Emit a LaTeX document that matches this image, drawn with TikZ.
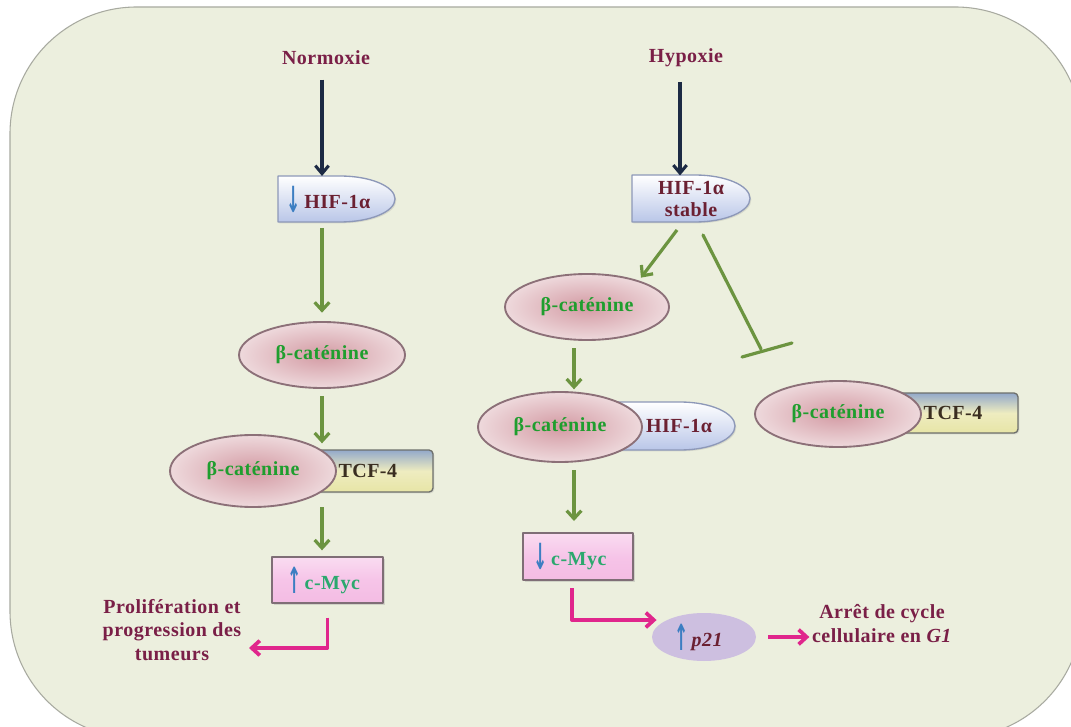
\documentclass[tikz,border=0pt]{standalone}
\usepackage{fontspec}
\setmainfont{Liberation Serif}[LetterSpace=2.5]
\newfontfamily\dejavu{DejaVu Sans}
\usetikzlibrary{arrows.meta,shapes.geometric,shadows,calc}
\definecolor{bgc}{HTML}{ECEFDE}
\definecolor{bgbd}{HTML}{A8AAA0}
\definecolor{maroon}{HTML}{7A1F47}
\definecolor{hifc}{HTML}{6B2032}
\definecolor{catc}{HTML}{1F9E2E}
\definecolor{catin}{HTML}{D39AA3}
\definecolor{catout}{HTML}{EED9DC}
\definecolor{catbd}{HTML}{8C7078}
\definecolor{mycc}{HTML}{2BA86E}
\definecolor{myctop}{HTML}{FADCF1}
\definecolor{mycmid}{HTML}{F6C4E8}
\definecolor{mycbot}{HTML}{F3BCE3}
\definecolor{mycbd}{HTML}{7F6E76}
\definecolor{tcfc}{HTML}{3A2E20}
\definecolor{tcftop}{HTML}{93A9CA}
\definecolor{tcfmid}{HTML}{EEECC0}
\definecolor{tcfbot}{HTML}{E7E5A6}
\definecolor{tcfbd}{HTML}{6E706C}
\definecolor{hifbot}{HTML}{B9C6E8}
\definecolor{hifbd}{HTML}{8D98B8}
\definecolor{greenarr}{HTML}{6C9440}
\definecolor{navy}{HTML}{1C2A44}
\definecolor{pinkarr}{HTML}{E0268C}
\definecolor{bluearr}{HTML}{3C7EC2}
\definecolor{p21c}{HTML}{CDBFE0}
\newcommand\dnarr{{\dejavu\bfseries\color{bluearr}\raisebox{-3pt}{\scalebox{0.85}[1.8]{↓}}}}
\newcommand\uparr{{\dejavu\bfseries\color{bluearr}\raisebox{-3pt}{\scalebox{0.85}[1.8]{↑}}}}
\newcommand\drawbullet[5]{\path[bulletshape] (#1,#2) -- ({#3-#5},#2) arc[start angle=-90,end angle=90,x radius=#5,y radius={(#4-#2)/2}] -- (#1,#4) -- cycle;}
\begin{document}
\begin{tikzpicture}[x=0.75pt,y=-0.75pt,line join=round,
  every node/.style={font=\fontsize{15}{17}\selectfont\bfseries, inner sep=0pt, outer sep=0pt},
  lbl/.style={text=maroon, align=center},
  catnode/.style={ellipse, draw=catbd, line width=1.4pt, inner color=catin, outer color=catout, text=catc, minimum width=124.5pt, minimum height=49.5pt},
  tcfbox/.style={rectangle, rounded corners=3pt, draw=tcfbd, line width=1pt, top color=tcftop, bottom color=tcfbot, middle color=tcfmid, text=tcfc, drop shadow={opacity=0.2,shadow xshift=1pt,shadow yshift=-1pt}},
  mycbox/.style={rectangle, draw=mycbd, line width=1.2pt, top color=myctop, bottom color=mycbot, middle color=mycmid, text=mycc, drop shadow={opacity=0.25,shadow xshift=1.2pt,shadow yshift=-1.2pt}},
  bulletshape/.style={draw=hifbd, line width=1pt, top color=white, bottom color=hifbot, drop shadow={opacity=0.2,shadow xshift=1pt,shadow yshift=-1pt}},
  hiftext/.style={text=hifc, align=center, font=\fontsize{15}{16.5}\selectfont\bfseries},
  greenarr/.style={draw=greenarr, line width=2.4pt, -{Straight Barb[length=6pt,width=11pt]}},
  greenline/.style={draw=greenarr, line width=2.4pt, line cap=round},
  navyarr/.style={draw=navy, line width=2.3pt, -{Straight Barb[length=6pt,width=10pt]}},
  pinkarr/.style={draw=pinkarr, line width=2.8pt, -{Straight Barb[length=6pt,width=11pt]}}
]
\useasboundingbox (0,0) rectangle (1071,727);
\begin{scope}
\clip (0,0) rectangle (1071,727);
\fill[white] (0,0) rectangle (1071,727);
\draw[bgbd, fill=bgc, line width=0.8pt, rounded corners=95pt] (10,7) rectangle (1082,738);
\end{scope}

% titles
\node[lbl] (normT) at (326,58) {Normoxie};
\node[lbl] (hypT) at (686,58) {Hypoxie};
\coordinate (nL) at (322,80);
\coordinate (nR) at (680,80);

% ---------- left column ----------
\drawbullet{278}{176}{395}{222}{55}
\node[hiftext, minimum width=87.75pt, minimum height=34.5pt] (hifL) at (336.5,199) {\dnarr\,HIF-1α\hspace*{12pt}};

\node[catnode] (bcat1) at (322,355) {β-caténine};

\node[tcfbox, minimum width=99.75pt, minimum height=31.5pt] (tcf1) at (366.5,471) {\hspace*{2pt}TCF-4};
\node[catnode, minimum height=54pt] (bcat2) at (253,471) {β-caténine};

\node[mycbox, minimum width=83.25pt, minimum height=34.5pt] (cmyc1) at (327.5,580) {\uparr\,c-Myc\hspace*{6pt}};

\node[lbl, font=\fontsize{15}{17.6}\selectfont\bfseries] (prolif) at (172,630) {Prolifération et\\progression des\\tumeurs};
\coordinate (pL) at (249,648);

% ---------- right column ----------
\drawbullet{632}{175}{750}{222}{55}
\node[hiftext, minimum width=88.5pt, minimum height=35.25pt] (hifS) at (691,199) {HIF-1α\\stable};

\node[catnode, minimum width=123pt] (bcat3) at (587,307) {β-caténine};

\drawbullet{600}{402}{735}{450}{55}
\node[hiftext] (hifC) at (679,426) {HIF-1α};
\node[catnode, minimum width=123pt, minimum height=52.5pt] (bcat4) at (560,427) {β-caténine};

\node[mycbox, minimum width=82.5pt, minimum height=35.25pt] (cmyc2) at (578,556.5) {\dnarr\,c-Myc\hspace*{12pt}};

\node[ellipse, fill=p21c, minimum width=78pt, minimum height=36pt, text=hifc] (p21) at (704,637) {\uparr\,\textit{p21}\hspace*{8pt}};

\node[lbl, font=\fontsize{15}{18}\selectfont\bfseries] (arrest) at (882,624) {Arrêt de cycle\\cellulaire en \textit{G1}};

\node[tcfbox, minimum width=97.5pt, minimum height=30pt] (tcf2) at (953,413) {TCF-4};
\node[catnode] (bcat5) at (838,414) {β-caténine};

\coordinate (colR) at (574,0);
\coordinate (inh) at (761,349);

% ---------- connectors ----------
\draw[navyarr, shorten <=11pt] (normT.south -| nL) -- (nL |- hifL.north);
\draw[navyarr, shorten <=11pt] (hypT.south -| nR) -- (nR |- hifS.north);

\draw[greenarr, shorten <=4.5pt, shorten >=7pt] (hifL.south -| bcat1.north) -- (bcat1.north);
\draw[greenarr, shorten <=6pt, shorten >=5pt] (bcat1.south) -- (bcat1.south |- tcf1.north);
\draw[greenarr, shorten <=0pt, shorten >=5pt] (bcat2.south -| bcat1.south) -- (cmyc1.north -| bcat1.south);
\draw[pinkarr, shorten <=11pt] (cmyc1.south) |- (pL);

\draw[greenarr] ($(hifS.south)+(-14,7.5)$) -- ($(bcat3.north east)+(-4,-6)$);
\draw[greenline] ($(hifS.south)+(12,12.5)$) -- (inh);
\draw[greenline] ($(inh)+(-19,8)$) -- ($(inh)+(31,-6)$);
\draw[greenarr, shorten <=6pt, shorten >=2pt] (bcat3.south -| colR) -- (bcat4.north -| colR);
\draw[greenarr, shorten <=6pt, shorten >=9pt] (bcat4.south -| colR) -- (cmyc2.north -| colR);
\draw[pinkarr, shorten <=6pt, shorten >=8pt] ($(cmyc2.south)+(-6,0)$) |- (p21.north west);
\draw[pinkarr, shorten <=9pt, shorten >=2pt] (p21.east) -- (p21.east -| arrest.west);
\end{tikzpicture}
\end{document}
